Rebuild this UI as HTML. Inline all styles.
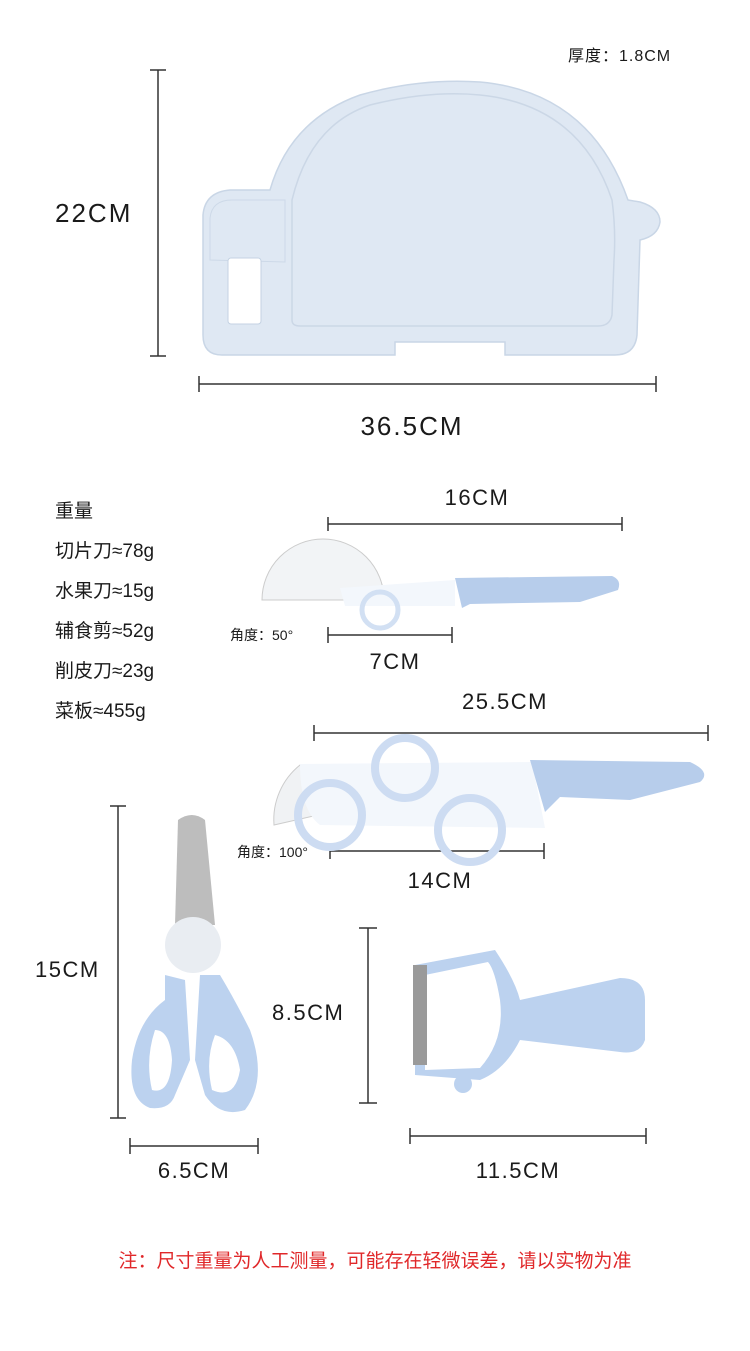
<!DOCTYPE html>
<html><head><meta charset="utf-8"><style>
html,body{margin:0;padding:0;background:#fff;}
svg{display:block;}
text{font-family:"Liberation Sans","Noto Sans CJK SC",sans-serif;fill:#1a1a1a;}
</style></head><body>
<svg width="750" height="1351" viewBox="0 0 750 1351" xmlns="http://www.w3.org/2000/svg">
<g stroke="#333" stroke-width="1.5" fill="none">
<line x1="158" y1="70" x2="158" y2="356"/><line x1="150" y1="70" x2="166" y2="70"/><line x1="150" y1="356" x2="166" y2="356"/>
<line x1="199" y1="384" x2="656" y2="384"/><line x1="199" y1="376" x2="199" y2="392"/><line x1="656" y1="376" x2="656" y2="392"/>
<line x1="328" y1="524" x2="622" y2="524"/><line x1="328" y1="517" x2="328" y2="531"/><line x1="622" y1="517" x2="622" y2="531"/>
<line x1="328" y1="635" x2="452" y2="635"/><line x1="328" y1="627" x2="328" y2="643"/><line x1="452" y1="627" x2="452" y2="643"/>
<line x1="314" y1="733" x2="708" y2="733"/><line x1="314" y1="725" x2="314" y2="741"/><line x1="708" y1="725" x2="708" y2="741"/>
<line x1="330" y1="851" x2="544" y2="851"/><line x1="330" y1="843" x2="330" y2="859"/><line x1="544" y1="843" x2="544" y2="859"/>
<line x1="118" y1="806" x2="118" y2="1118"/><line x1="110" y1="806" x2="126" y2="806"/><line x1="110" y1="1118" x2="126" y2="1118"/>
<line x1="130" y1="1146" x2="258" y2="1146"/><line x1="130" y1="1138" x2="130" y2="1154"/><line x1="258" y1="1138" x2="258" y2="1154"/>
<line x1="368" y1="928" x2="368" y2="1103"/><line x1="359" y1="928" x2="377" y2="928"/><line x1="359" y1="1103" x2="377" y2="1103"/>
<line x1="410" y1="1136" x2="646" y2="1136"/><line x1="410" y1="1128" x2="410" y2="1144"/><line x1="646" y1="1128" x2="646" y2="1144"/>
</g>
<!-- board -->
<path d="M222 355 Q203 355 203 335 L203 215 Q205 192 230 190 L270 190 Q290 120 360 95 Q420 78 480 82 Q590 92 628 200 L640 202 Q660 208 660 222 Q658 236 640 240 L637 335 Q635 355 615 355 L505 355 L505 342 L395 342 L395 355 Z" fill="#dfe8f3" stroke="#c9d6e6" stroke-width="1.5"/>
<path d="M292 320 L292 200 Q310 125 370 105 Q430 90 480 95 Q580 105 612 200 Q616 230 614 260 L612 315 Q610 326 598 326 L300 326 Q292 326 292 320Z" fill="none" stroke="#cbd7e6" stroke-width="1.5"/>
<path d="M210 260 L210 218 Q212 200 232 200 L285 200 L285 262 Z" fill="none" stroke="#cdd9e8"/>
<rect x="228" y="258" width="33" height="66" rx="3" fill="#fff" stroke="#c4d2e3"/>
<!-- small knife -->
<path d="M262 600 A61 61 0 0 1 384 600 Z" fill="#f2f4f6" stroke="#ccc"/>
<path d="M340 588 L455 580 L455 606 L345 606 Z" fill="#f3f7fc"/>
<circle cx="380" cy="610" r="18" fill="none" stroke="#d2e0f3" stroke-width="5"/>
<path d="M455 578 L612 576 Q622 580 618 590 L580 602 L470 604 L462 608 Z" fill="#b7cdeb"/>
<!-- big knife -->
<path d="M274 825 A70 70 0 0 1 300 765 L340 810Z" fill="#f0f2f4" stroke="#ccc"/>
<path d="M300 764 L532 762 L545 828 L320 825 Q300 810 300 764Z" fill="#f3f7fc"/>
<g fill="none" stroke="#cddcf2" stroke-width="8"><circle cx="330" cy="815" r="32"/><circle cx="405" cy="768" r="30"/><circle cx="470" cy="830" r="32"/></g>
<path d="M530 760 L690 762 Q712 772 700 782 L630 800 L560 797 L545 812 Z" fill="#b7cdeb"/>
<!-- scissors -->
<path d="M178 820 Q192 810 205 820 L215 925 L175 925 Z" fill="#bdbdbd"/>
<circle cx="193" cy="945" r="28" fill="#e9edf2"/>
<path d="M165 975 L185 980 L190 1060 L175 1095 Q170 1110 150 1108 Q128 1100 132 1060 Q138 1020 165 1000Z M155 1030 Q145 1060 152 1090 Q170 1095 172 1060 Q170 1030 155 1030Z" fill="#bcd2ef" fill-rule="evenodd"/>
<path d="M200 975 L220 975 Q235 1000 250 1030 Q268 1080 245 1110 Q220 1118 205 1095 L195 1060Z M215 1035 Q205 1060 212 1090 Q235 1100 240 1070 Q235 1040 215 1035Z" fill="#bcd2ef" fill-rule="evenodd"/>
<!-- peeler -->
<path d="M415 965 L495 950 Q515 980 520 1000 L620 978 Q645 978 645 1000 L645 1040 Q640 1055 620 1052 L520 1040 Q505 1070 480 1080 L415 1075 Z M425 975 L425 1070 L480 1068 Q505 1040 500 1000 Q495 970 488 962Z" fill="#bcd2ef" fill-rule="evenodd"/>
<rect x="413" y="965" width="14" height="100" fill="#9a9a9a"/>
<circle cx="463" cy="1084" r="9" fill="#bcd2ef"/>
<!-- text -->
<text x="568" y="61" font-size="16" letter-spacing="1">厚度：1.8CM</text>
<text x="55" y="222" font-size="26" letter-spacing="2">22CM</text>
<text x="412" y="435" font-size="26" letter-spacing="2" text-anchor="middle">36.5CM</text>
<g font-size="19"><text x="55" y="517">重量</text><text x="55" y="557">切片刀≈78g</text><text x="55" y="597">水果刀≈15g</text><text x="55" y="637">辅食剪≈52g</text><text x="55" y="677">削皮刀≈23g</text><text x="55" y="717">菜板≈455g</text></g>
<text x="477" y="505" font-size="22" letter-spacing="1.5" text-anchor="middle">16CM</text>
<text x="230" y="640" font-size="14">角度：50°</text>
<text x="395" y="669" font-size="22" letter-spacing="1.5" text-anchor="middle">7CM</text>
<text x="505" y="709" font-size="22" letter-spacing="1.5" text-anchor="middle">25.5CM</text>
<text x="237" y="857" font-size="14">角度：100°</text>
<text x="440" y="888" font-size="22" letter-spacing="1.5" text-anchor="middle">14CM</text>
<text x="35" y="977" font-size="22" letter-spacing="1.5">15CM</text>
<text x="194" y="1178" font-size="22" letter-spacing="1.5" text-anchor="middle">6.5CM</text>
<text x="272" y="1020" font-size="22" letter-spacing="1.5">8.5CM</text>
<text x="518" y="1178" font-size="22" letter-spacing="1.5" text-anchor="middle">11.5CM</text>
<text x="375" y="1267" font-size="19" text-anchor="middle" style="fill:#e0282a">注：尺寸重量为人工测量，可能存在轻微误差，请以实物为准</text>
</svg>
</body></html>
